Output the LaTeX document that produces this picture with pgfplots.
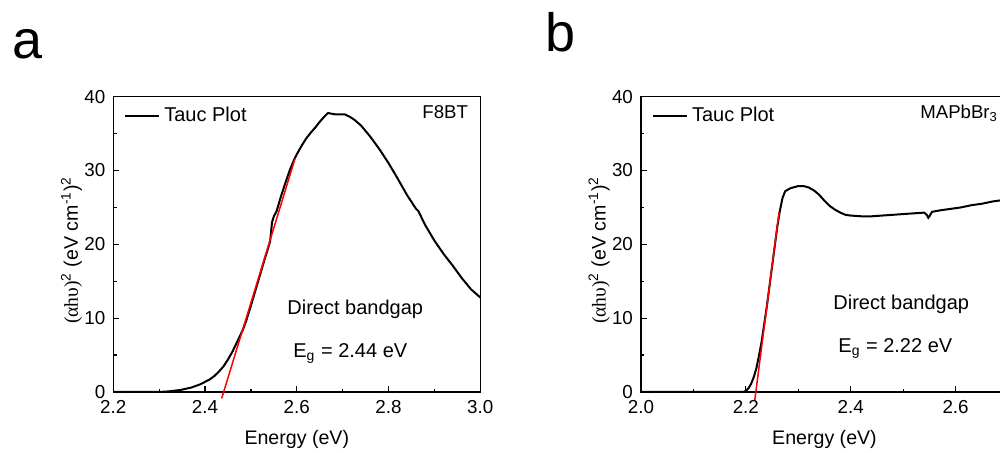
\documentclass[border=0pt]{standalone}
\usepackage{pgfplots}
\pgfplotsset{compat=1.18}
\usepackage{fontspec}
\setmainfont{Liberation Sans}
\newfontfamily\greekserif{Liberation Serif}

% common look of both Tauc panels (1 px of the reference = 0.5pt)
\pgfplotsset{tauc/.style={
    scale only axis, width=183.5pt, height=147.65pt, anchor=south west,
    ymin=0, ymax=40, ytick={0,10,20,30,40},
    minor x tick num=1, minor y tick num=1,
    tick align=inside, tick pos=left,
    major tick length=2.8pt, minor tick length=1.7pt,
    axis line style={line width=0.6pt},
    tick style={line width=0.6pt, black},
    tick label style={font=\fontsize{9.4}{11}\selectfont},
    /pgf/number format/assume math mode=true,
    xticklabel style={/pgf/number format/fixed, /pgf/number format/fixed zerofill,
        /pgf/number format/precision=1, yshift=-0.9pt},
    yticklabel style={xshift=-0.5pt},
    label style={font=\fontsize{9.8}{11}\selectfont},
    xlabel={Energy (eV)},
    xlabel style={at={(axis description cs:0.5,0)}, anchor=base, yshift=-26.5pt},
    ylabel={{\greekserif (αhυ)}\textsuperscript{2} (eV cm\textsuperscript{-1})\textsuperscript{2}},
    ylabel style={at={(axis description cs:-0.114,0.48)}, anchor=center},
    clip=false,
    legend style={draw=none, fill=none, at={(axis description cs:0.029,0.935)},
        anchor=west, inner sep=0pt, font=\fontsize{10}{12}\selectfont},
    legend image code/.code={\draw[#1] (0pt,0pt) -- (17pt,0pt);},
}}

\begin{document}
\begin{tikzpicture}

% panel a: F8BT
\begin{axis}[tauc, at={(56.65pt,30.5pt)},
    xmin=2.2, xmax=3.0, xtick={2.2,2.4,2.6,2.8,3.0}]
\addplot[black, line width=1pt] coordinates {
 (2.20,0) (2.30,0) (2.32,0.08) (2.346,0.27) (2.37,0.6) (2.39,1.05) (2.41,1.7)
 (2.42,2.15) (2.43,2.75) (2.44,3.45) (2.45,4.4) (2.46,5.5) (2.47,6.8) (2.483,8.5)
 (2.49,9.7) (2.50,11.7) (2.51,13.8) (2.52,15.9) (2.53,18.0) (2.54,20.0)
 (2.542,20.5) (2.546,23.0) (2.550,23.8) (2.556,24.5) (2.565,26.4) (2.575,28.3)
 (2.585,30.1) (2.595,31.6) (2.60,32.2) (2.61,33.3) (2.62,34.3) (2.63,35.1)
 (2.64,35.8) (2.65,36.6) (2.66,37.3) (2.668,37.8) (2.675,37.7) (2.685,37.6)
 (2.695,37.6) (2.705,37.6) (2.715,37.3) (2.725,36.9) (2.74,36.1) (2.76,34.6)
 (2.78,32.9) (2.80,31.0) (2.82,28.9) (2.84,26.7) (2.86,24.8) (2.865,24.5)
 (2.88,22.6) (2.90,20.5) (2.92,18.7) (2.94,17.1) (2.96,15.4) (2.98,13.9)
 (3.00,12.8)
};
\addlegendentry{Tauc Plot}
\addplot[red, line width=0.75pt, forget plot] coordinates {(2.4363,-0.86) (2.596,31.6)};
\end{axis}

% panel b: MAPbBr3
\begin{axis}[tauc, at={(320.5pt,30.5pt)},
    xmin=2.0, xmax=2.7, xtick={2.0,2.2,2.4,2.6}]
\addplot[black, line width=1pt] coordinates {
 (2.00,0) (2.10,0) (2.195,0) (2.200,0.15) (2.205,0.5) (2.210,1.1) (2.215,2.0)
 (2.220,3.2) (2.225,4.9) (2.230,6.8) (2.240,11.6) (2.250,17.0) (2.260,22.4)
 (2.265,24.6) (2.270,26.3) (2.275,27.2) (2.285,27.6) (2.30,27.9) (2.31,27.9)
 (2.32,27.7) (2.33,27.3) (2.34,26.7) (2.35,25.9) (2.36,25.2) (2.37,24.7)
 (2.38,24.3) (2.39,24.0) (2.40,23.9) (2.42,23.8) (2.44,23.8) (2.46,23.9)
 (2.48,24.0) (2.50,24.1) (2.52,24.2) (2.54,24.3) (2.545,24.0) (2.548,23.6)
 (2.551,23.9) (2.555,24.4) (2.57,24.6) (2.59,24.8) (2.61,25.0) (2.63,25.3)
 (2.65,25.5) (2.67,25.8) (2.69,26.0) (2.70,26.1)
};
\addlegendentry{Tauc Plot}
\addplot[red, line width=0.75pt, forget plot] coordinates {(2.217,-1.08) (2.2634,24.4)};
\end{axis}

% annotations
\begin{scope}[every node/.style={inner sep=0pt, anchor=base west}]
\node[font=\fontsize{27}{30}\selectfont] at (6pt,197pt) {a};
\node[font=\fontsize{27}{30}\selectfont] at (272.5pt,200.5pt) {b};
\node[font=\fontsize{9.3}{11}\selectfont] at (211pt,167.35pt) {F8BT};
\node[font=\fontsize{9.3}{11}\selectfont] at (460pt,167.35pt) {MAPbBr\textsubscript{3}};
\node[font=\fontsize{10}{12}\selectfont] at (143.5pt,69.35pt) {Direct bandgap};
\node[font=\fontsize{10}{12}\selectfont] at (146.5pt,47.85pt) {E\textsubscript{g} = 2.44 eV};
\node[font=\fontsize{10}{12}\selectfont] at (416.5pt,71.85pt) {Direct bandgap};
\node[font=\fontsize{10}{12}\selectfont] at (419pt,50.35pt) {E\textsubscript{g} = 2.22 eV};
\end{scope}

\pgfresetboundingbox
\useasboundingbox (0,0) rectangle (500pt,226.5pt);
\end{tikzpicture}
\end{document}
